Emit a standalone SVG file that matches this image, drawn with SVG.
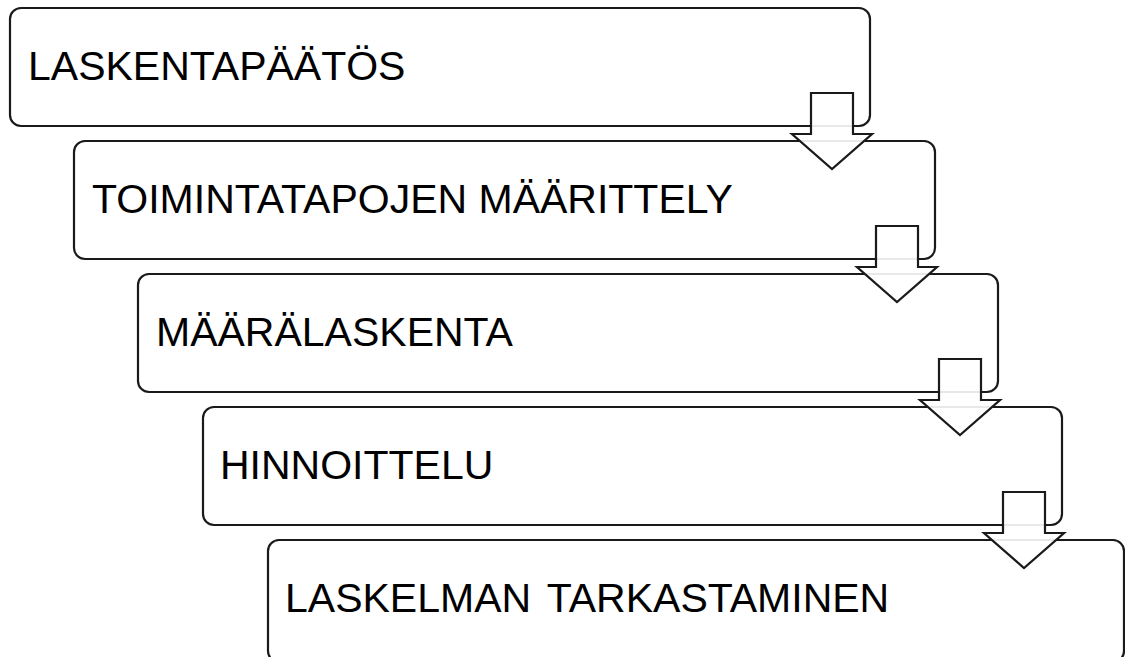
<svg xmlns="http://www.w3.org/2000/svg" width="1125" height="657" viewBox="0 0 1125 657">
  <style>
    .box { fill: #ffffff; stroke: #1a1a1a; stroke-width: 2.2; }
    .label { font-family: "Liberation Sans", Arial, sans-serif; font-size: 41px; fill: #000000; }
    .arrow { fill: #ffffff; fill-opacity: 0.9; stroke: #1a1a1a; stroke-width: 2.2; stroke-linejoin: miter; }
  </style>
  <defs>
    <!-- block arrow, origin at the bottom-right corner of the box above -->
    <path id="down" d="M -59 -33 H -17 V 8 H 2 L -38 43 L -78 8 H -59 Z"/>
  </defs>
  <rect width="1125" height="657" fill="#ffffff"/>

  <g id="step1">
    <rect class="box" x="10" y="8" width="860" height="118" rx="11"/>
    <text class="label" x="28" y="80">LASKENTAPÄÄTÖS</text>
  </g>
  <g id="step2">
    <rect class="box" x="74" y="141" width="861" height="118" rx="11"/>
    <text class="label" x="92" y="213">TOIMINTATAPOJEN MÄÄRITTELY</text>
  </g>
  <g id="step3">
    <rect class="box" x="138" y="274" width="860" height="118" rx="11"/>
    <text class="label" x="156" y="346">MÄÄRÄLASKENTA</text>
  </g>
  <g id="step4">
    <rect class="box" x="203" y="407" width="859" height="118" rx="11"/>
    <text class="label" x="220" y="479">HINNOITTELU</text>
  </g>
  <g id="step5">
    <rect class="box" x="268" y="540" width="856" height="122" rx="11"/>
    <text class="label" x="285" y="612">LASKELMAN <tspan dx="5">TARKASTAMINEN</tspan></text>
  </g>

  <g id="connectors">
    <use href="#down" class="arrow" transform="translate(870 126)"/>
    <use href="#down" class="arrow" transform="translate(935 259)"/>
    <use href="#down" class="arrow" transform="translate(998 392)"/>
    <use href="#down" class="arrow" transform="translate(1062 525)"/>
  </g>
</svg>
